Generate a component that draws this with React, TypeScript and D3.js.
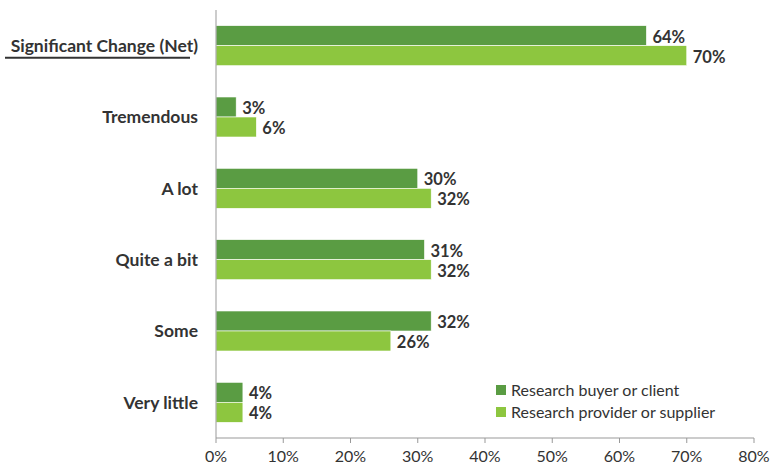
import React from "react";
import * as d3 from "d3";

const categories = ["Significant Change (Net)", "Tremendous", "A lot", "Quite a bit", "Some", "Very little"];
const buyerValues = [64, 3, 30, 31, 32, 4];
const providerValues = [70, 6, 32, 32, 26, 4];
const seriesNames = ["Research buyer or client", "Research provider or supplier"];
const xTicks = [0, 10, 20, 30, 40, 50, 60, 70, 80];

const colors = ["#5A9C43", "#8DC63F"];
const W = 770, H = 466;
const font = "Lato, 'Open Sans', sans-serif";

export default function App() {
  const x = d3.scaleLinear().domain([0, 80]).range([216, 754]);
  const y = d3.scaleBand().domain(categories).range([10, 438]);
  const barH = 20;
  const series = [buyerValues, providerValues];
  return (
    <svg width={W} height={H} style={{ position: "absolute", left: 0, top: 0, background: "#fff" }} fontFamily={font}>
      {categories.map((c, i) => {
        const cy = y(c)! + y.bandwidth() / 2;
        return (
          <g key={c}>
            {series.map((vals, s) => {
              const top = cy - barH + s * barH;
              return (
                <g key={s}>
                  <rect x={x(0)} y={top} width={x(vals[i]) - x(0)} height={barH} fill={colors[s]} stroke="#fff" strokeWidth={0.6} />
                  <text x={x(vals[i]) + 6} y={top + barH / 2 + 1} dy="0.36em" fontSize={16.5} fontWeight={700} fill="#333">
                    {vals[i]}%
                  </text>
                </g>
              );
            })}
            <text x={198} y={cy} dy="0.36em" textAnchor="end" fontSize={17.5} fontWeight={700} fill="#333">
              {c}
            </text>
            {i === 0 && <line x1={5} x2={190} y1={cy + 12} y2={cy + 12} stroke="#333" strokeWidth={2} />}
          </g>
        );
      })}
      <line x1={x(0)} x2={x(0)} y1={10} y2={438} stroke="#999" />
      <line x1={x(0)} x2={x(80)} y1={438} y2={438} stroke="#999" />
      {xTicks.map((t) => (
        <g key={t}>
          <line x1={x(t)} x2={x(t)} y1={438} y2={443} stroke="#999" />
          <text x={x(t)} y={462} textAnchor="middle" fontSize={16} fill="#333">
            {t}%
          </text>
        </g>
      ))}
      {seriesNames.map((n, s) => (
        <g key={n}>
          <rect x={496} y={385 + s * 22} width={10} height={10} fill={colors[s]} />
          <text x={511} y={390 + s * 22} dy="0.36em" fontSize={16} fill="#333">
            {n}
          </text>
        </g>
      ))}
    </svg>
  );
}
